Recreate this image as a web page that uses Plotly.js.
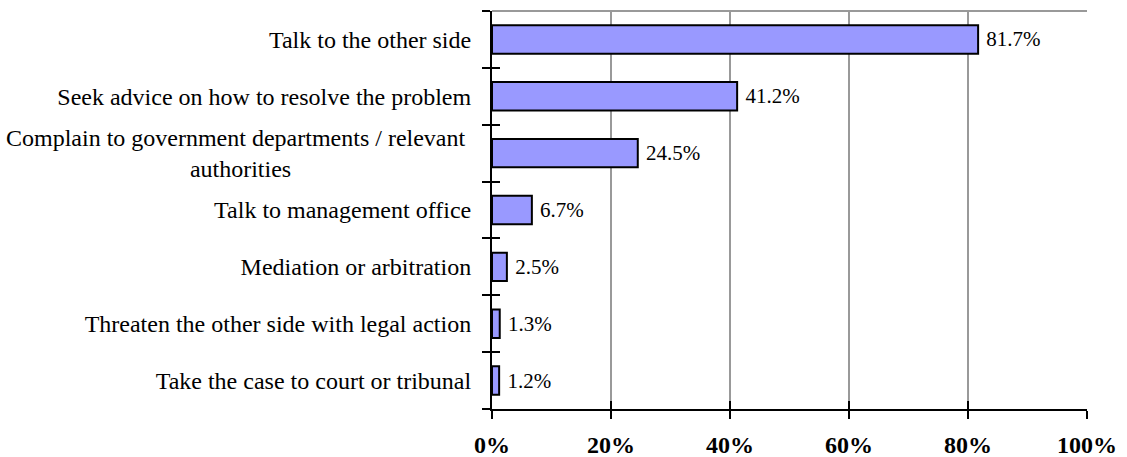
<!DOCTYPE html>
<html>
<head>
<meta charset="utf-8">
<script src="https://cdn.plot.ly/plotly-3.0.1.min.js"></script>
<style>html,body{margin:0;padding:0;background:#fff;}#chart{width:1127px;height:457px;}</style>
</head>
<body>
<div id="chart"></div>
<script>
var categories = [
  "Talk to the other side",
  "Seek advice on how to resolve the problem",
  "Complain to government departments / relevant authorities",
  "Talk to management office",
  "Mediation or arbitration",
  "Threaten the other side with legal action",
  "Take the case to court or tribunal"
];
var values = [81.7, 41.2, 24.5, 6.7, 2.5, 1.3, 1.2];
var xTickVals = [0, 20, 40, 60, 80, 100];
var xTickText = ["0%", "20%", "40%", "60%", "80%", "100%"];

var NB = "\u00a0";
function pad(n){ return new Array(n + 1).join(NB); }
var displayLabels = categories.map(function(c){
  if (c.indexOf("Complain") === 0) {
    return "Complain to government departments / relevant" + pad(1) + "<br>authorities" + pad(30);
  }
  return c;
});

var serif = "'Liberation Serif', 'Times New Roman', serif";

var trace = {
  type: "bar",
  orientation: "h",
  x: values,
  y: categories,
  xaxis: "x",
  yaxis: "y",
  marker: {color: "#9999FF", line: {color: "#000000", width: 2}},
  text: values.map(function(v){ return NB + v.toFixed(1) + "%"; }),
  textposition: "outside",
  constraintext: "none",
  cliponaxis: false,
  textfont: {family: serif, size: 21, color: "#000000"},
  hoverinfo: "skip"
};
var ghost = {
  type: "bar",
  orientation: "h",
  x: values,
  y: categories,
  xaxis: "x2",
  yaxis: "y2",
  marker: {color: "rgba(0,0,0,0)", line: {width: 0}},
  hoverinfo: "skip",
  showlegend: false
};

var layout = {
  width: 1127,
  height: 457,
  margin: {l: 492, r: 40, t: 11, b: 48, pad: 0},
  paper_bgcolor: "#ffffff",
  plot_bgcolor: "#ffffff",
  font: {family: serif},
  showlegend: false,
  bargap: 0.5,
  xaxis: {
    range: [0, 100],
    tickvals: xTickVals,
    ticktext: xTickText,
    showgrid: true,
    gridcolor: "#999999",
    gridwidth: 2,
    zeroline: false,
    showline: true,
    linecolor: "#000000",
    linewidth: 2,
    ticks: "outside",
    ticklen: 8,
    tickwidth: 2,
    tickcolor: "#000000",
    ticklabelstandoff: 5,
    tickfont: {family: serif, size: 24, color: "#000000", weight: "bold"},
    fixedrange: true
  },
  yaxis: {
    type: "category",
    categoryorder: "array",
    categoryarray: categories,
    autorange: "reversed",
    tickvals: categories,
    ticktext: displayLabels,
    tickson: "boundaries",
    showgrid: false,
    zeroline: false,
    showline: true,
    linecolor: "#000000",
    linewidth: 2,
    ticks: "outside",
    ticklen: 8,
    tickwidth: 2,
    tickcolor: "#000000",
    ticklabelstandoff: 14,
    tickfont: {family: serif, size: 24, color: "#000000"},
    fixedrange: true
  },
  xaxis2: {
    overlaying: "x",
    matches: "x",
    anchor: "y",
    side: "bottom",
    tickvals: xTickVals,
    showticklabels: false,
    showgrid: false,
    zeroline: false,
    showline: false,
    ticks: "inside",
    ticklen: 8,
    tickwidth: 2,
    tickcolor: "#000000"
  },
  yaxis2: {
    overlaying: "y",
    matches: "y",
    anchor: "x",
    side: "left",
    type: "category",
    tickson: "boundaries",
    showticklabels: false,
    showgrid: false,
    zeroline: false,
    showline: false,
    ticks: "inside",
    ticklen: 8,
    tickwidth: 2,
    tickcolor: "#000000"
  },
  shapes: [{
    type: "line", xref: "paper", yref: "paper",
    x0: 0, x1: 1, y0: 1, y1: 1,
    line: {color: "#999999", width: 2},
    layer: "below"
  }]
};

Plotly.newPlot("chart", [trace, ghost], layout, {displayModeBar: false, staticPlot: true});
</script>
</body>
</html>
